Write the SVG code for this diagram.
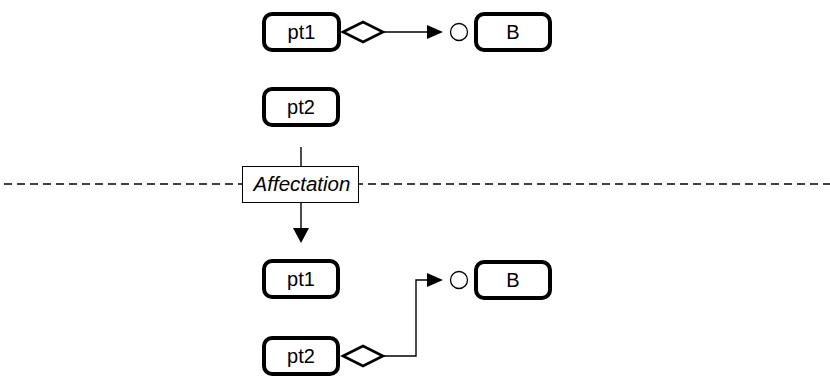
<svg xmlns="http://www.w3.org/2000/svg" width="830" height="379" viewBox="0 0 830 379">
<style>
.node rect{fill:#fff;stroke:#000;stroke-width:4}
.lbl{font-family:"Liberation Sans",Arial,sans-serif;font-size:20px;text-anchor:middle;fill:#000}
.conn{fill:none;stroke:#000;stroke-width:1.4}
.dia{fill:#fff;stroke:#000;stroke-width:2.6;stroke-linejoin:miter}
.circ{fill:#fff;stroke:#000;stroke-width:1.3}
.arr{fill:#000;stroke:none}
</style>
<g id="separator">
<line x1="4" y1="184" x2="830" y2="184" stroke="#000" stroke-width="1.6" stroke-dasharray="8,5"/>
</g>
<g id="connectors">
<line class="conn" x1="383" y1="32" x2="430" y2="32"/>
<polygon class="dia" points="343,32 363,22 383,32 363,42"/>
<polygon class="arr" points="427,25 443,32 427,39"/>
<circle class="circ" cx="459" cy="32" r="8.5"/>
<line class="conn" x1="301" y1="147" x2="301" y2="166"/>
<line class="conn" x1="301" y1="203" x2="301" y2="230"/>
<polygon class="arr" points="293,228 301,243 309,228"/>
<polyline class="conn" points="383,356 416,356 416,280 430,280"/>
<polygon class="dia" points="343,356 363,346 383,356 363,366"/>
<polygon class="arr" points="427,273 443,280 427,287"/>
<circle class="circ" cx="459" cy="280" r="8.5"/>
</g>
<g id="pt1-top" class="node">
<rect x="264" y="14" width="75" height="36" rx="8"/>
<text class="lbl" x="301.5" y="39">pt1</text>
</g>
<g id="B-top" class="node">
<rect x="476" y="14" width="74" height="36" rx="8"/>
<text class="lbl" x="513" y="39">B</text>
</g>
<g id="pt2-top" class="node">
<rect x="264" y="89" width="74" height="36" rx="8"/>
<text class="lbl" x="301" y="114">pt2</text>
</g>
<g id="affectation">
<rect x="242.5" y="166.5" width="116" height="36" fill="#fff" stroke="#000" stroke-width="1"/>
<text x="302" y="191" font-family="Liberation Sans,Arial,sans-serif" font-size="20.5" font-style="italic" text-anchor="middle">Affectation</text>
</g>
<g id="pt1-bottom" class="node">
<rect x="264" y="261" width="74" height="36" rx="8"/>
<text class="lbl" x="301" y="286">pt1</text>
</g>
<g id="B-bottom" class="node">
<rect x="476" y="262" width="74" height="36" rx="8"/>
<text class="lbl" x="513" y="287">B</text>
</g>
<g id="pt2-bottom" class="node">
<rect x="264" y="338" width="74" height="36" rx="8"/>
<text class="lbl" x="301" y="363">pt2</text>
</g>
</svg>
